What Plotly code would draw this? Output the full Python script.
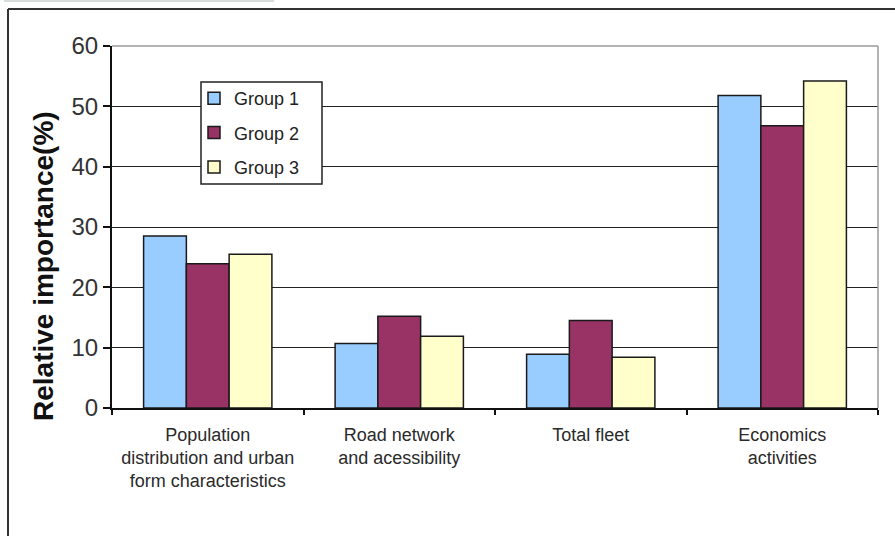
import plotly.graph_objects as go

# Factor categories and relative importance (%) per respondent group
categories = [
    "Population<br>distribution and urban<br>form characteristics",
    "Road network<br>and acessibility",
    "Total fleet",
    "Economics<br>activities",
]
group_names = ["Group 1", "Group 2", "Group 3"]
group1 = [28.5, 10.7, 8.9, 51.8]
group2 = [23.9, 15.2, 14.5, 46.8]
group3 = [25.5, 11.9, 8.4, 54.2]
y_ticks = [0, 10, 20, 30, 40, 50, 60]

series = [group1, group2, group3]
colors = ["#99CCFF", "#993366", "#FFFFCC"]

fig = go.Figure()
for name, vals, col in zip(group_names, series, colors):
    fig.add_trace(go.Bar(
        x=categories, y=vals, name=name, legendgroup=name,
        marker=dict(color=col, line=dict(color="#1a1a1a", width=1.5)),
    ))

W, H = 895, 536
L, R, T, B = 112, 17, 46, 128
pw, ph = W - L - R, H - T - B


def px_x(px):
    return (px - L) / pw


def px_y(py):
    return (H - B - py) / ph


shapes = [
    # outer frame (top and left edges)
    dict(type="line", xref="paper", yref="paper", x0=px_x(8), x1=px_x(896),
         y0=px_y(9), y1=px_y(9), line=dict(color="#333", width=2)),
    dict(type="line", xref="paper", yref="paper", x0=px_x(8), x1=px_x(8),
         y0=px_y(9), y1=px_y(537), line=dict(color="#333", width=2)),
    # faint strip above the frame
    dict(type="rect", xref="paper", yref="paper", x0=px_x(4), x1=px_x(274),
         y0=px_y(2), y1=px_y(0), line=dict(width=0), fillcolor="#d8dcdc"),
    # plot-area border on top and right
    dict(type="line", xref="paper", yref="paper", x0=0, x1=1, y0=1, y1=1,
         line=dict(color="#9a9a9a", width=1.5)),
    dict(type="line", xref="paper", yref="paper", x0=1, x1=1, y0=0, y1=1,
         line=dict(color="#9a9a9a", width=1.5)),
    # legend box
    dict(type="rect", xref="paper", yref="paper", layer="above",
         x0=px_x(201), x1=px_x(322), y0=px_y(184), y1=px_y(82),
         fillcolor="white", line=dict(color="#222", width=1.5)),
]

fig.update_layout(
    width=W, height=H,
    margin=dict(l=L, r=R, t=T, b=B),
    paper_bgcolor="white", plot_bgcolor="white",
    barmode="group", bargap=0.33, bargroupgap=0,
    font=dict(family="Liberation Sans, Arial, sans-serif", color="#222"),
    showlegend=True,
    legend=dict(
        x=px_x(194), y=px_y(80), xanchor="left", yanchor="top",
        bgcolor="rgba(0,0,0,0)", borderwidth=0,
        font=dict(size=18, color="#222"),
        traceorder="grouped", tracegroupgap=8,
        itemclick=False,
    ),
    shapes=shapes,
    annotations=[dict(
        text="<b>Relative importance(%)</b>", textangle=-90,
        xref="paper", yref="paper", x=px_x(43), y=px_y(266),
        xanchor="center", yanchor="middle", showarrow=False,
        font=dict(size=28, color="#111"),
    )],
)

fig.update_yaxes(
    range=[0, 60], tickvals=y_ticks,
    showgrid=True, gridcolor="#222", gridwidth=1.3,
    showline=True, linecolor="#111", linewidth=2,
    ticks="outside", ticklen=7, tickcolor="#111", tickwidth=1.5,
    tickfont=dict(size=24, color="#333"),
    zeroline=False,
)
fig.update_xaxes(
    showline=True, linecolor="#111", linewidth=2,
    ticks="outside", tickson="boundaries", ticklen=5, tickcolor="#111",
    tickwidth=1.5,
    tickfont=dict(size=18, color="#2a2a2a"),
    ticklabelstandoff=9,
)

fig.write_html("out.html")
